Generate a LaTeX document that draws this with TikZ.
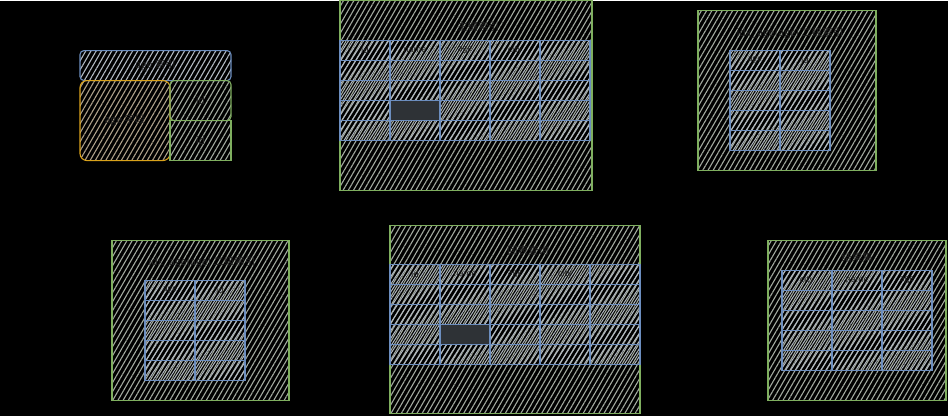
\documentclass[tikz,border=0pt]{standalone}
\usepackage{fontspec}
\setmainfont{Noto Sans CJK SC}
\usepackage{xcolor}
\usepackage{tikz}
\usetikzlibrary{patterns.meta, positioning}

\definecolor{framegreen}{HTML}{7FAF5F}
\definecolor{cellblue}{HTML}{6C8EBF}
\definecolor{keyyellow}{HTML}{D9A21B}
\definecolor{hatchgray}{HTML}{A3AAA0}
\definecolor{cellgray}{HTML}{B3BAC2}
\definecolor{hatchtan}{HTML}{ADA08A}
\definecolor{inkdark}{HTML}{1E1E1E}
\definecolor{darkgray}{HTML}{2E3236}

\begin{document}
\begin{tikzpicture}[
  x=1pt, y=-1pt,
  hatch/.style={pattern={Lines[angle=60,distance=4.5pt,line width=1.1pt]}},
  cellhatch/.style={pattern={Lines[angle=57,distance=4.2pt,line width=1pt]}},
  frame/.style={rectangle, draw=framegreen, line width=1.1pt, hatch,
                pattern color=hatchgray, inner sep=0pt},
  cell/.style={rectangle, draw=cellblue, line width=1.1pt, cellhatch,
               pattern color=cellgray, minimum width=50pt,
               minimum height=20pt, inner sep=0pt,
               font=\fontsize{8.5}{10}\selectfont, text=inkdark},
  darkcell/.style={rectangle, draw=cellblue, line width=1.1pt,
                   fill=darkgray, minimum width=50pt, minimum height=20pt,
                   inner sep=0pt},
  title/.style={font=\fontsize{10.5}{12}\selectfont, text=inkdark}
]
% Background
\fill[black] (0,0) rectangle (948,415);

% Legend
\node[rectangle, rounded corners=4pt, draw=cellblue, line width=1.1pt,
      hatch, pattern color=cellgray, minimum width=151pt,
      minimum height=30pt] (lgkey) at (155.5,65) {};
\node[title] at (lgkey) {age 索引};
\node[rectangle, rounded corners=7pt, draw=keyyellow, line width=1.1pt,
      hatch, pattern color=hatchtan, minimum width=90pt,
      minimum height=80pt] (lgval) at (125,120) {};
\node[title] at (lgval) {age 字段};
\node[frame, rounded corners=4pt, minimum width=61pt,
      minimum height=40pt] (lgid) at (200.5,100) {};
\node[title] at (lgid) {id};
\node[frame, minimum width=61pt, minimum height=40pt] (lgrow)
      at (200.5,140) {};
\node[title] at (lgrow) {id};

% Primary key index (top)
\node[frame, minimum width=252pt, minimum height=190pt] (pktop)
      at (466,95) {};
\node[title] at (478,26) {主键索引};
\foreach \r in {1,...,4}
  \foreach \c in {0,...,4}
    \node[cell] (pt-\r-\c) at (365+50*\c, 50+20*\r) {};
\node[darkcell] at (pt-3-1) {};
\foreach \c/\t in {0/id,1/name,2/age,3/city,4/}
  \node[cell] (pt-0-\c) at (365+50*\c, 50) {\t};

% Secondary index (top)
\node[frame, minimum width=178pt, minimum height=160pt] (agetop)
      at (787,90) {};
\node[title] at (790,33) {idx\_age(age) 二级索引};
\foreach \r in {1,...,4}
  \foreach \c in {0,1}
    \node[cell] (at-\r-\c) at (755+50*\c, 60+20*\r) {};
\foreach \c/\t in {0/age,1/id}
  \node[cell] (at-0-\c) at (755+50*\c, 60) {\t};

% Secondary index (bottom)
\node[frame, minimum width=177pt, minimum height=160pt] (agebot)
      at (200.5,320) {};
\node[title] at (202,262) {idx\_age(age) 二级索引};
\foreach \r in {1,...,4}
  \foreach \c in {0,1}
    \node[cell] (ab-\r-\c) at (170+50*\c, 290+20*\r) {};
\foreach \c/\t in {0/age,1/id}
  \node[cell] (ab-0-\c) at (170+50*\c, 290) {\t};

% Primary key lookup (bottom)
\node[frame, minimum width=250pt, minimum height=188pt] (pkbot)
      at (515,319) {};
\node[title] at (528,250) {回表查询};
\foreach \r in {1,...,4}
  \foreach \c in {0,...,4}
    \node[cell] (pb-\r-\c) at (415+50*\c, 274+20*\r) {};
\node[darkcell] at (pb-3-1) {};
\foreach \c/\t in {0/id,1/name,2/age,3/city,4/}
  \node[cell] (pb-0-\c) at (415+50*\c, 274) {\t};

% Result set
\node[frame, minimum width=178pt, minimum height=160pt] (res)
      at (857,320) {};
\node[title] at (857,257) {结果集};
\foreach \r in {1,...,4}
  \foreach \c in {0,1,2}
    \node[cell] (rs-\r-\c) at (807+50*\c, 280+20*\r) {};
\foreach \c/\t in {0/city,1/name,2/age}
  \node[cell] (rs-0-\c) at (807+50*\c, 280) {\t};
\end{tikzpicture}
\end{document}
